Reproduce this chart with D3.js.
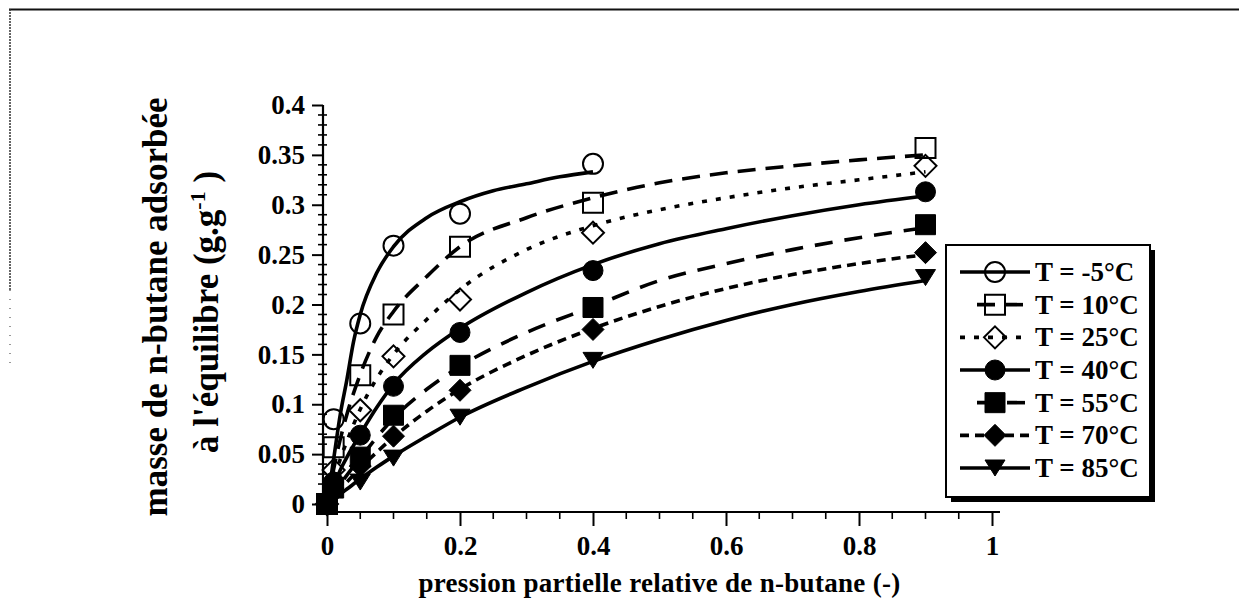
<!DOCTYPE html>
<html><head><meta charset="utf-8">
<script src="https://cdn.jsdelivr.net/npm/d3@7"></script>
<style>
html,body{margin:0;padding:0;background:#fff;}
svg{display:block;}
text{font-family:"Liberation Serif","Times New Roman",serif;font-weight:bold;fill:#000;}
</style></head>
<body>
<svg id="chart" width="1239" height="607"></svg>
<script>
// ---- data ----
const seriesNames = ["T = -5°C","T = 10°C","T = 25°C","T = 40°C","T = 55°C","T = 70°C","T = 85°C"];
const markerTypes = ["circleOpen","squareOpen","diamondOpen","circle","square","diamond","triangleDown"];
const dashes = [null,"18,10","5,9",null,"18,12","9,6",null];

const ptsX_m5 = [0,0.01,0.05,0.1,0.2,0.4];
const ptsX = [0,0.01,0.05,0.1,0.2,0.4,0.9];
const pts_m5 = [0,0.085,0.181,0.259,0.291,0.341];
const pts_10 = [0,0.057,0.129,0.19,0.258,0.302,0.357];
const pts_25 = [0,0.034,0.094,0.148,0.205,0.272,0.339];
const pts_40 = [0,0.022,0.069,0.118,0.172,0.234,0.313];
const pts_55 = [0,0.016,0.047,0.089,0.139,0.197,0.28];
const pts_70 = [0,0.012,0.038,0.068,0.114,0.175,0.252];
const pts_85 = [0,0.008,0.022,0.046,0.087,0.144,0.227];

const curveX_m5 = [0,0.01,0.02,0.03,0.04,0.05,0.075,0.1,0.15,0.2,0.25,0.3,0.35,0.4];
const curveX = [0,0.01,0.02,0.03,0.05,0.075,0.1,0.15,0.2,0.3,0.4,0.5,0.6,0.7,0.8,0.9];
const curve_m5 = [0,0.045,0.09,0.125,0.163,0.19,0.232,0.258,0.287,0.303,0.314,0.321,0.328,0.333];
const curve_10 = [0,0.035,0.065,0.09,0.13,0.168,0.193,0.228,0.258,0.287,0.307,0.322,0.332,0.339,0.345,0.35];
const curve_25 = [0,0.024,0.045,0.063,0.095,0.126,0.15,0.185,0.215,0.255,0.279,0.295,0.307,0.317,0.325,0.333];
const curve_40 = [0,0.017,0.034,0.047,0.07,0.097,0.12,0.152,0.176,0.212,0.24,0.261,0.276,0.289,0.3,0.309];
const curve_55 = [0,0.01,0.02,0.029,0.046,0.067,0.086,0.115,0.138,0.172,0.198,0.224,0.241,0.255,0.267,0.277];
const curve_70 = [0,0.008,0.015,0.022,0.036,0.052,0.067,0.093,0.115,0.149,0.176,0.198,0.216,0.23,0.241,0.25];
const curve_85 = [0,0.005,0.01,0.015,0.025,0.037,0.048,0.068,0.087,0.117,0.143,0.165,0.184,0.2,0.213,0.224];

const xTickValues = [0,0.2,0.4,0.6,0.8,1];
const xTickLabels = ["0","0.2","0.4","0.6","0.8","1"];
const yTickValues = [0,0.05,0.1,0.15,0.2,0.25,0.3,0.35,0.4];
const yTickLabels = ["0","0.05","0.1","0.15","0.2","0.25","0.3","0.35","0.4"];
const xTitle = "pression partielle relative de n-butane (-)";
const yTitle1 = "masse de n-butane adsorbée";
const yTitle2 = "à l'équilibre (g.g";

// ---- build ----
const pointSets = [
  [ptsX_m5, pts_m5],[ptsX, pts_10],[ptsX, pts_25],[ptsX, pts_40],[ptsX, pts_55],[ptsX, pts_70],[ptsX, pts_85]
];
const curveSets = [
  [curveX_m5, curve_m5],[curveX, curve_10],[curveX, curve_25],[curveX, curve_40],[curveX, curve_55],[curveX, curve_70],[curveX, curve_85]
];

const svg = d3.select("#chart");
const x = d3.scaleLinear().domain([0,1]).range([327,992]);
const y = d3.scaleLinear().domain([0,0.4]).range([504,105]);
const axisX = 323, axisY = 512, axisXEnd = 1000;

// frame (scanned border)
svg.append("line").attr("x1",9).attr("x2",1239).attr("y1",9.5).attr("y2",9.5)
  .attr("stroke","#111").attr("stroke-width",2);
svg.append("line").attr("x1",10).attr("x2",10).attr("y1",9).attr("y2",290)
  .attr("stroke","#333").attr("stroke-width",1.5).attr("stroke-dasharray","2,1");
svg.append("line").attr("x1",10).attr("x2",10).attr("y1",290).attr("y2",370)
  .attr("stroke","#555").attr("stroke-width",1.2).attr("stroke-dasharray","1,8");

// minor ticks
const yMinor = d3.range(0,41).map(i=>i/100).filter(v=>Math.round(v*100)%5!==0);
svg.append("g").selectAll("line").data(yMinor).join("line")
  .attr("x1",axisX-5).attr("x2",axisX+4).attr("y1",d=>y(d)).attr("y2",d=>y(d))
  .attr("stroke","#000").attr("stroke-width",1.6);
const xMinor = d3.range(0,21).map(i=>i/20).filter(v=>Math.round(v*20)%4!==0);
svg.append("g").selectAll("line").data(xMinor).join("line")
  .attr("x1",d=>x(d)).attr("x2",d=>x(d)).attr("y1",axisY).attr("y2",axisY+7)
  .attr("stroke","#000").attr("stroke-width",1.6);

// y axis
const gy = svg.append("g").attr("transform",`translate(${axisX},0)`)
  .call(d3.axisLeft(y).tickValues(yTickValues).tickFormat((d,i)=>yTickLabels[i]).tickSize(11).tickPadding(7));
gy.select(".domain").remove();
gy.selectAll(".tick line").attr("stroke","#000").attr("stroke-width",2);
gy.selectAll(".tick text").style("font-size","27px").style("font-family","Liberation Serif").style("font-weight","bold");
svg.append("line").attr("x1",axisX).attr("x2",axisX).attr("y1",y(0.4)).attr("y2",axisY)
  .attr("stroke","#000").attr("stroke-width",2.2);

// x axis
const gx = svg.append("g").attr("transform",`translate(0,${axisY})`)
  .call(d3.axisBottom(x).tickValues(xTickValues).tickFormat((d,i)=>xTickLabels[i]).tickSize(14).tickPadding(10));
gx.select(".domain").remove();
gx.selectAll(".tick line").attr("stroke","#000").attr("stroke-width",2);
gx.selectAll(".tick text").style("font-size","27px").style("font-family","Liberation Serif").style("font-weight","bold");
svg.append("line").attr("x1",axisX).attr("x2",axisXEnd).attr("y1",axisY).attr("y2",axisY)
  .attr("stroke","#000").attr("stroke-width",2.2);

// titles
svg.append("text").attr("x",(x(0)+x(1))/2).attr("y",592).attr("text-anchor","middle")
  .style("font-size","27px").style("letter-spacing","0.3px").text(xTitle);
svg.append("text").attr("transform","translate(167,307) rotate(-90)").attr("text-anchor","middle")
  .style("font-size","35px").text(yTitle1);
const t2 = svg.append("text").attr("transform","translate(218,312) rotate(-90)").attr("text-anchor","middle")
  .style("font-size","35px");
t2.append("tspan").text(yTitle2);
t2.append("tspan").attr("dy","-13").style("font-size","22px").text("-1");
t2.append("tspan").attr("dy","13").text(" )");

// marker path
function markerPath(type){
  const p = d3.path();
  if(type.startsWith("circle")){ p.arc(0,0,10,0,2*Math.PI); }
  else if(type.startsWith("square")){ p.rect(-10,-10,20,20); }
  else if(type.startsWith("diamond")){ p.moveTo(0,-11);p.lineTo(11,0);p.lineTo(0,11);p.lineTo(-11,0);p.closePath(); }
  else { p.moveTo(-10,-8);p.lineTo(10,-8);p.lineTo(0,8);p.closePath(); }
  return p.toString();
}
function styleMarker(sel,type){
  const open = type.endsWith("Open");
  sel.attr("d",markerPath(type))
    .attr("fill",open?"none":"#000")
    .attr("stroke","#000").attr("stroke-width",open?2:1);
}

// curves
const lineGen = d3.line().x(d=>x(d[0])).y(d=>y(d[1])).curve(d3.curveMonotoneX);
curveSets.forEach((cs,i)=>{
  const data = cs[0].map((v,j)=>[v,cs[1][j]]);
  svg.append("path").datum(data).attr("d",lineGen)
    .attr("fill","none").attr("stroke","#000").attr("stroke-width",3.6)
    .attr("stroke-dasharray",dashes[i]);
});
// points
pointSets.forEach((ps,i)=>{
  const data = ps[0].map((v,j)=>[v,ps[1][j]]);
  const g = svg.append("g");
  g.selectAll("path").data(data).join("path")
    .attr("transform",d=>`translate(${x(d[0])},${y(d[1])})`)
    .call(s=>styleMarker(s,markerTypes[i]));
});

// legend
const lg = svg.append("g");
lg.append("rect").attr("x",951).attr("y",250).attr("width",204).attr("height",252).attr("fill","#000");
lg.append("rect").attr("x",946).attr("y",245).attr("width",204).attr("height",252)
  .attr("fill","#fff").attr("stroke","#000").attr("stroke-width",2);
const rowY = d3.scaleLinear().domain([0,6]).range([272,468]);
seriesNames.forEach((name,i)=>{
  const cy = rowY(i);
  const x1 = (i===1||i===4)?977:960;
  lg.append("line").attr("x1",x1).attr("x2",1030).attr("y1",cy).attr("y2",cy)
    .attr("stroke","#000").attr("stroke-width",3.6).attr("stroke-dasharray",dashes[i]);
  lg.append("path").attr("transform",`translate(995,${cy})`).call(s=>styleMarker(s,markerTypes[i]));
  lg.append("text").attr("x",1035).attr("y",cy+9).style("font-size","27px").text(name);
});
</script>
</body></html>
